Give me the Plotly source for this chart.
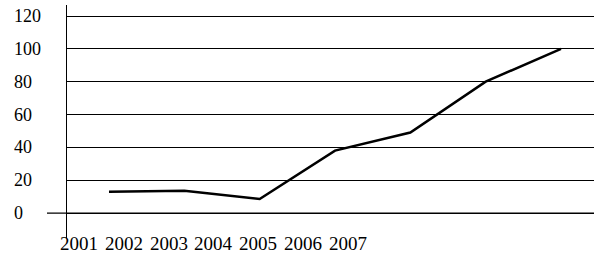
import plotly.graph_objects as go

years = ["2001", "2002", "2003", "2004", "2005", "2006", "2007"]
values = [13, 13.5, 8.5, 38, 49, 80, 100]
y_ticks = [0, 20, 40, 60, 80, 100, 120]

W, H = 594, 255
ML, MR, MT, MB = 67, 0, 5, 17
pw = W - ML - MR

x = list(range(len(values)))

fig = go.Figure()
fig.add_trace(go.Scatter(x=x, y=values, mode="lines",
                         line=dict(color="black", width=2.5), hoverinfo="skip"))

font = dict(family="Liberation Serif", color="black")

annotations = []
for v in y_ticks:
    annotations.append(dict(x=(12 - ML) / pw, xref="paper", y=v, yref="y",
                            text=str(v), showarrow=False, xanchor="left",
                            yanchor="middle", font=dict(size=18, **font)))
for i, yr in enumerate(years):
    annotations.append(dict(x=(58 + i * 44.8 - ML) / pw, xref="paper",
                            y=-(243 - MT) / (H - MT - MB) + 1, yref="paper",
                            text=yr, showarrow=False, xanchor="left",
                            yanchor="middle", font=dict(size=19, **font)))

fig.update_layout(
    width=W, height=H,
    margin=dict(l=ML, r=MR, t=MT, b=MB),
    paper_bgcolor="white", plot_bgcolor="white",
    font=font,
    showlegend=False,
    xaxis=dict(range=[-0.5575, 6.438], showgrid=False, zeroline=False,
               showticklabels=False, showline=False, fixedrange=True),
    yaxis=dict(range=[-15.2, 126.7], tickvals=y_ticks, showticklabels=False,
               showgrid=True, gridcolor="black", gridwidth=1.3,
               zeroline=False, showline=True, linecolor="black", linewidth=1.3,
               fixedrange=True),
    annotations=annotations,
    shapes=[dict(type="line", xref="paper", yref="y", x0=(47 - ML) / pw, x1=1,
                 y0=0, y1=0, line=dict(color="black", width=1.3))],
)

fig.write_html("out.html", config={"displayModeBar": False})
